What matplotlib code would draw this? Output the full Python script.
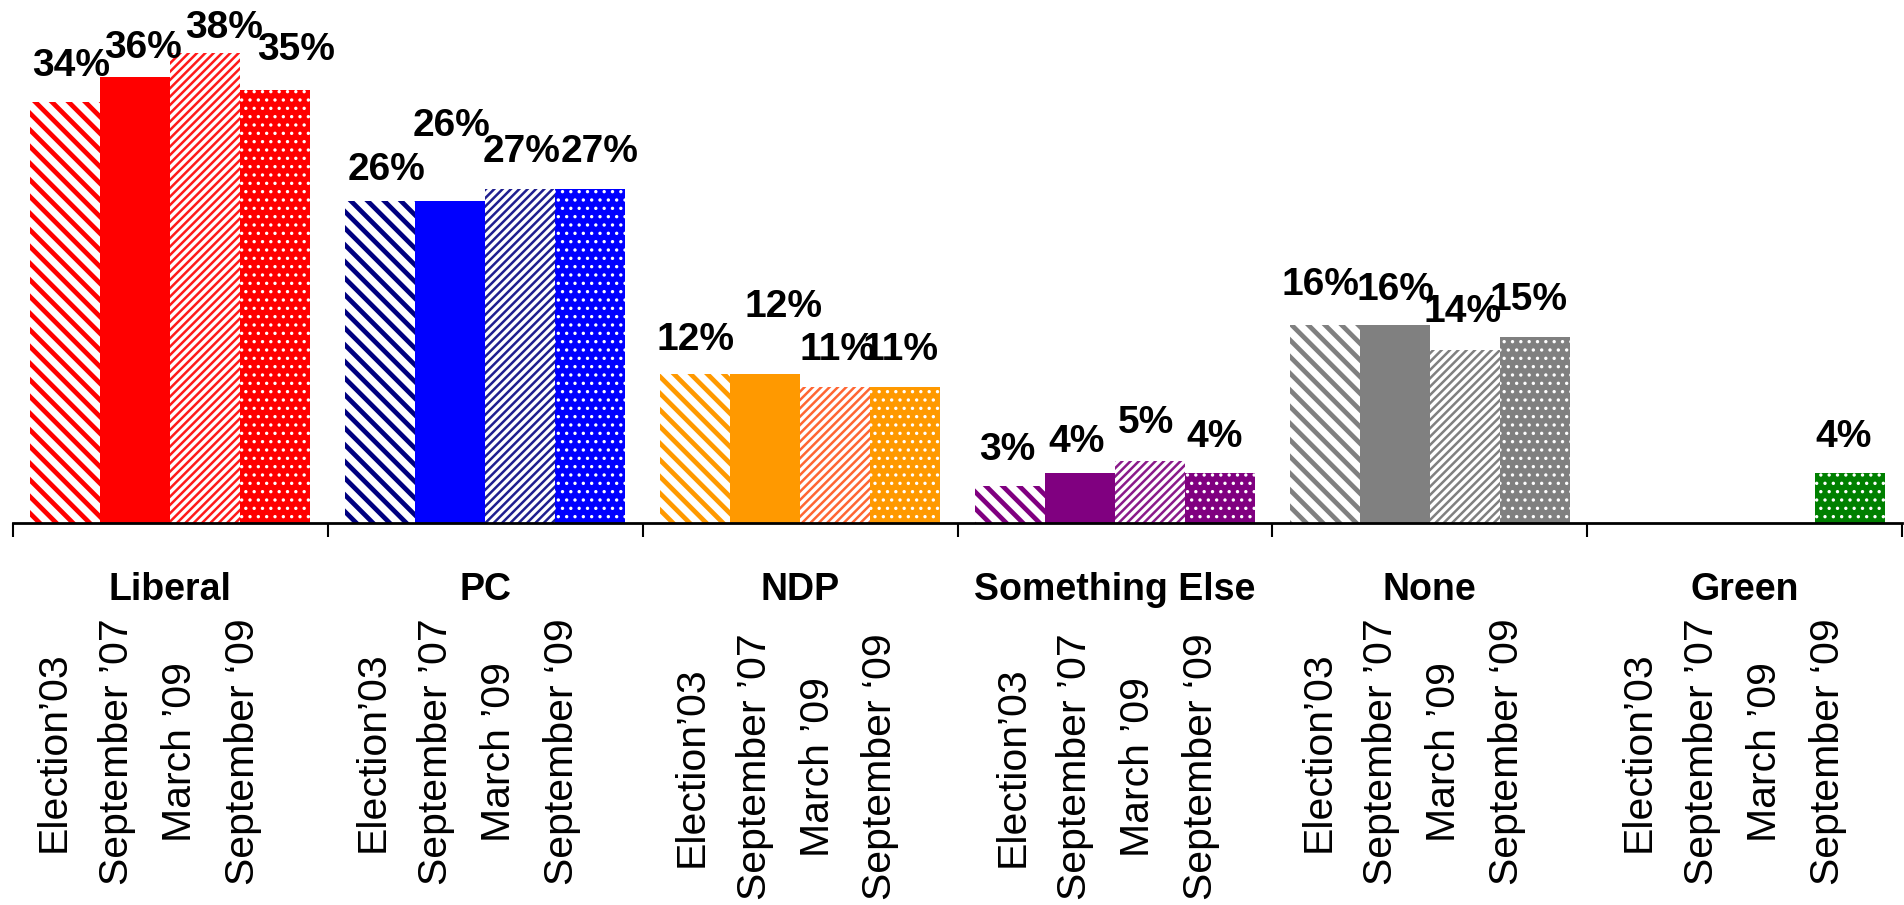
import numpy as np
import matplotlib
matplotlib.use("Agg")
import matplotlib.pyplot as plt
import matplotlib.transforms as mtransforms

plt.rcParams['font.family'] = ['Liberation Sans', 'DejaVu Sans']

# data
categories = ['Liberal', 'PC', 'NDP', 'Something Else', 'None', 'Green']
waves = ['Election\u201903', 'September \u201907', 'March \u201909', 'September \u201809']
election_03 = [34, 26, 12, 3, 16, np.nan]
september_07 = [36, 26, 12, 4, 16, np.nan]
march_09 = [38, 27, 11, 5, 14, np.nan]
september_09 = [35, 27, 11, 4, 15, 4]
series = [election_03, september_07, march_09, september_09]

# colours per party
main_colors = ['#FF0000', '#0000FF', '#FF9900', '#800080', '#808080', '#008000']
stripe_colors = ['#FF0000', '#000080', '#FF9900', '#800080', '#808080', '#008000']
fine_colors = ['#FF1A1A', '#1F1F8F', '#FF6633', '#8A1A8A', '#808080', '#008000']

# label layout (rise above bar in %, shift in px)
label_rise = [[2.1, 1.6, 1.2, 2.4], [1.7, 5.3, 2.2, 2.2], [2.0, 4.6, 2.2, 2.2],
              [2.1, 1.7, 2.3, 2.1], [2.4, 2.0, 2.2, 2.2], [0, 0, 0, 2.1]]
label_dx = [[6, 8, 19, 21], [6, 1, 1, 9], [0, 18, 2, -5],
            [-3, -3, -4, -5], [-4, 1, -2, -6], [0, 0, 0, -6]]
tick_dx = [0, 4, 8, 14, 5, 11]
tick_dy = [0, 0, 15, 15, 0, 0]

W, H = 1904, 905
fig = plt.figure(figsize=(W / 100, H / 100), dpi=100)
ax = fig.add_axes([13 / W, 382 / H, 1889 / W, 523 / H])

px_unit = 1889 / 6.0
bar_w = 0.2224
groups = np.arange(len(categories))


def hatch_width(patch, lw):
    # make the hatch line width stick to this bar only
    if hasattr(patch, 'set_hatch_linewidth'):
        patch.set_hatch_linewidth(lw)
    orig = patch.draw

    def draw(renderer):
        with plt.rc_context({'hatch.linewidth': lw}):
            orig(renderer)
    patch.draw = draw


for j, vals in enumerate(series):
    vals = np.array(vals, dtype=float)
    ok = ~np.isnan(vals)
    xs = groups + 0.5 + (j - 1.5) * bar_w
    for i in np.where(ok)[0]:
        if j == 0:
            kw = dict(facecolor='white', edgecolor=stripe_colors[i], hatch='\\\\', hlw=3.4)
        elif j == 1:
            kw = dict(facecolor=main_colors[i], edgecolor=main_colors[i], hatch=None, hlw=1.0)
        elif j == 2:
            kw = dict(facecolor='white', edgecolor=fine_colors[i], hatch='////', hlw=1.8)
        else:
            kw = dict(facecolor=main_colors[i], edgecolor='white', hatch='..', hlw=1.2)
        hlw = kw.pop('hlw')
        with plt.rc_context({'hatch.linewidth': hlw}):
            bars = ax.bar(xs[i], vals[i], width=bar_w, linewidth=0, **kw)
        for b in bars:
            hatch_width(b, hlw)
        ax.text(xs[i] + label_dx[i][j] / px_unit, vals[i] + label_rise[i][j],
                f'{vals[i]:.0f}%', ha='center', va='baseline',
                fontsize=28, fontweight='bold', color='black')

ax.set_xlim(0, 6)
ax.set_ylim(0, 523 / 12.38)
for s in ['left', 'top', 'right']:
    ax.spines[s].set_visible(False)
ax.spines['bottom'].set_linewidth(2)
ax.set_yticks([])
ax.set_xticks(np.arange(0, 7))
ax.set_xticklabels([])
ax.tick_params(axis='x', direction='out', length=10, width=1.5, color='black')

trans = mtransforms.blended_transform_factory(ax.transData, fig.transFigure)
for i, cat in enumerate(categories):
    ax.text(i + 0.5, 1 - 600 / H, cat, transform=trans, ha='center', va='baseline',
            fontsize=27, fontweight='bold')
    for j, w in enumerate(waves):
        x = i + 0.43 + (j - 1.5) * 0.2 + tick_dx[i] / px_unit
        y = 1 - (752 + tick_dy[i]) / H
        ax.text(x, y, w, transform=trans, ha='center', va='center',
                rotation=90, fontsize=29.5)

fig.savefig('out.png', dpi=100)
